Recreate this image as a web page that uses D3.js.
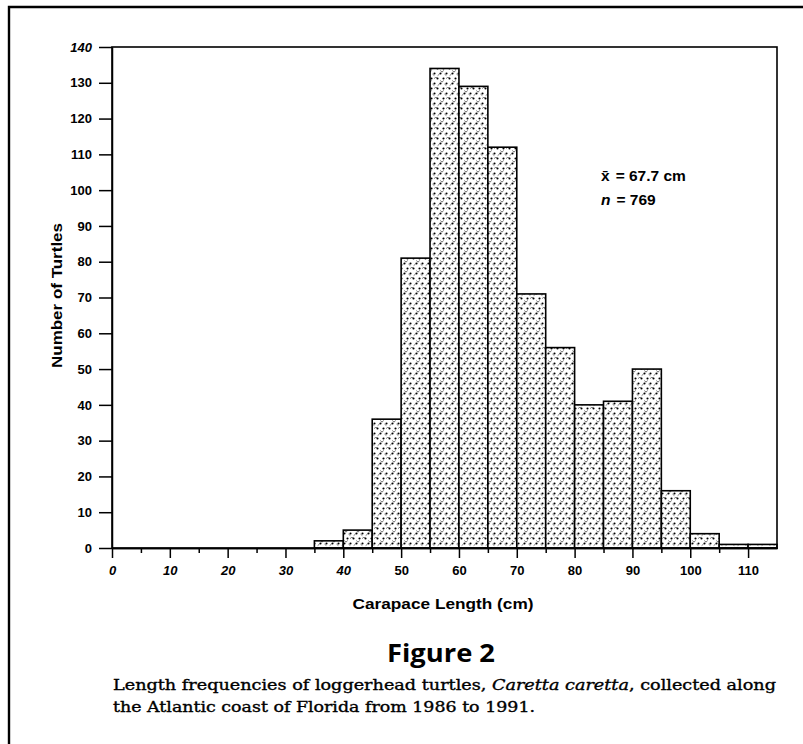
<!DOCTYPE html>
<html>
<head>
<meta charset="utf-8">
<script src="https://cdn.jsdelivr.net/npm/d3@7"></script>
<style>
  body { margin: 0; background: #fff; }
  svg { display: block; }
  .axis text { font-family: 'Liberation Sans', Arial, sans-serif; font-weight: bold; font-size: 13px; fill: #000; }
  .axis path, .axis line { stroke: #000; stroke-width: 1.5; }
</style>
</head>
<body>
<div id="graf"></div>
<script>
// datos del histograma (clases de 5 cm)
binStart = [35, 40, 45, 50, 55, 60, 65, 70, 75, 80, 85, 90, 95, 100, 105, 110]
counts   = [2, 5, 36, 81, 134, 129, 112, 71, 56, 40, 41, 50, 16, 4, 1, 1]
binWidth = 5
yTicks = [0, 10, 20, 30, 40, 50, 60, 70, 80, 90, 100, 110, 120, 130, 140]
xTicks = [0, 10, 20, 30, 40, 50, 60, 70, 80, 90, 100, 110]
xMinorTicks = [5, 15, 25, 35, 45, 55, 65, 75, 85, 95, 105]
statsLines = ['x\u0304 = 67.7 cm', 'n = 769']
caption = ['Length frequencies of loggerhead turtles, ', 'Caretta caretta', ', collected along']
caption2 = 'the Atlantic coast of Florida from 1986 to 1991.'

ancho_total = 803
alto_total = 744
margins = {top: 47, left: 112, right: 26, bottom: 196}
ancho = ancho_total - margins.left - margins.right
alto = alto_total - margins.top - margins.bottom

svg = d3.select('#graf').append('svg')
        .attr('width', ancho_total)
        .attr('height', alto_total)

// patron punteado de las barras
defs = svg.append('defs')
pat = defs.append('pattern')
          .attr('id', 'dots')
          .attr('patternUnits', 'userSpaceOnUse')
          .attr('width', 12).attr('height', 10)
pat.append('rect').attr('width', 12).attr('height', 10).attr('fill', '#fff')
pat.append('path')
   .attr('d', 'M0,0L12,10M12,0L0,10')
   .attr('stroke', '#444').attr('stroke-width', 0.7)
   .attr('stroke-dasharray', '2.5,3')
;[[1.5,1.5],[7.5,1.5],[4.5,6.5],[10.5,6.5]].forEach(p => {
    pat.append('circle').attr('cx', p[0]).attr('cy', p[1]).attr('r', 1.05).attr('fill', '#000')
})

// marco exterior
svg.append('path')
   .attr('d', `M9,744L9,7L803,7`)
   .attr('fill', 'none').attr('stroke', '#000').attr('stroke-width', 2.4)

g = svg.append('g').attr('transform', `translate(${margins.left}, ${margins.top})`)

x = d3.scaleLinear().domain([0, 115]).range([0, ancho])
y = d3.scaleLinear().domain([0, 140]).range([alto, 0])

// barras
g.selectAll('rect.bar')
 .data(counts)
 .enter().append('rect')
   .attr('class', 'bar')
   .attr('x', (d, i) => x(binStart[i]))
   .attr('width', (d, i) => x(binStart[i] + binWidth) - x(binStart[i]))
   .attr('y', d => y(d))
   .attr('height', d => alto - y(d))
   .attr('fill', 'url(#dots)')
   .attr('stroke', '#000')
   .attr('stroke-width', 1.6)

// caja del grafico
g.append('rect')
 .attr('x', 0).attr('y', 0)
 .attr('width', ancho).attr('height', alto)
 .attr('fill', 'none').attr('stroke', '#000').attr('stroke-width', 1.6)

// ejes
ejeY = d3.axisLeft(y).tickValues(yTicks).tickSize(13).tickPadding(7).tickSizeOuter(0)
gy = g.append('g').attr('class', 'axis').call(ejeY)
gy.selectAll('text').style('font-style', d => d == 140 ? 'italic' : 'normal')

ejeX = d3.axisBottom(x).tickValues(xTicks).tickSize(10).tickPadding(8).tickSizeOuter(0)
gx = g.append('g').attr('class', 'axis').attr('transform', `translate(0, ${alto})`).call(ejeX)
gx.selectAll('text').style('font-style', d => d < 50 ? 'italic' : 'normal')

ejeXm = d3.axisBottom(x).tickValues(xMinorTicks).tickSize(5).tickFormat('').tickSizeOuter(0)
g.append('g').attr('class', 'axis').attr('transform', `translate(0, ${alto})`).call(ejeXm)

// titulos de ejes
g.append('text')
 .attr('x', 331)
 .attr('y', alto + 61)
 .attr('text-anchor', 'middle')
 .attr('font-family', 'Liberation Sans, Arial, sans-serif')
 .attr('font-weight', 'bold')
 .attr('font-size', '15px')
 .attr('textLength', 181)
 .attr('lengthAdjust', 'spacingAndGlyphs')
 .text('Carapace Length (cm)')

g.append('text')
 .attr('transform', `translate(-50, ${y(70) - 2}) rotate(-90)`)
 .attr('text-anchor', 'middle')
 .attr('font-family', 'Liberation Sans, Arial, sans-serif')
 .attr('font-weight', 'bold')
 .attr('font-size', '14px')
 .attr('textLength', 145)
 .attr('lengthAdjust', 'spacingAndGlyphs')
 .text('Number of Turtles')

// estadisticos
statsLines.forEach((t, i) => {
    txt = g.append('text')
       .attr('x', 489)
       .attr('y', 134 + i * 24)
       .attr('font-family', 'Liberation Sans, Arial, sans-serif')
       .attr('font-weight', 'bold')
       .attr('font-size', '15.5px')
    parts = t.split(' = ')
    txt.append('tspan').style('font-style', i == 1 ? 'italic' : 'normal').text(parts[0])
    txt.append('tspan').attr('dx', 6).text('= ' + parts[1])
})

// pie de figura
svg.append('text')
   .attr('x', 441).attr('y', 662)
   .attr('text-anchor', 'middle')
   .attr('font-family', 'Open Sans, sans-serif')
   .attr('font-weight', 'bold')
   .attr('font-size', '25px')
   .attr('textLength', 108)
   .attr('lengthAdjust', 'spacingAndGlyphs')
   .text('Figure 2')

cap = svg.append('text')
   .attr('x', 113).attr('y', 690)
   .attr('font-family', 'DejaVu Serif, serif')
   .attr('font-size', '14.5px')
   .attr('stroke', '#000').attr('stroke-width', 0.35)
   .attr('textLength', 663)
   .attr('lengthAdjust', 'spacingAndGlyphs')
cap.append('tspan').text(caption[0])
cap.append('tspan').style('font-style', 'italic').text(caption[1])
cap.append('tspan').text(caption[2])

svg.append('text')
   .attr('x', 113).attr('y', 712)
   .attr('font-family', 'DejaVu Serif, serif')
   .attr('font-size', '14.5px')
   .attr('stroke', '#000').attr('stroke-width', 0.35)
   .attr('textLength', 422)
   .attr('lengthAdjust', 'spacingAndGlyphs')
   .text(caption2)
</script>
</body>
</html>
